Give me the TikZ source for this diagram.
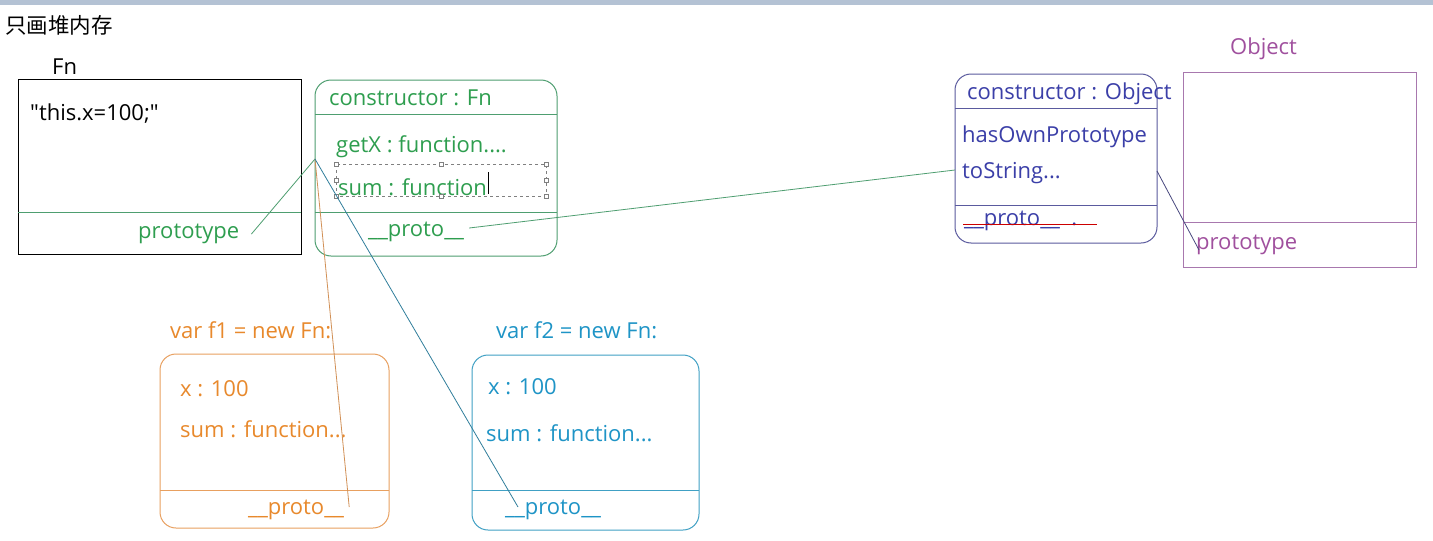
\documentclass[tikz,border=0pt]{standalone}
\usepackage{fontspec}
\setmainfont{Open Sans}
\newfontfamily\cjk{Noto Sans CJK SC}
\definecolor{gtext}{HTML}{2E9E4F}
\definecolor{gline}{HTML}{4E9E70}
\definecolor{btext}{HTML}{3B3FA8}
\definecolor{bline}{HTML}{5A5A9E}
\definecolor{ptext}{HTML}{A0509E}
\definecolor{pline}{HTML}{A878AE}
\definecolor{otext}{HTML}{E8892C}
\definecolor{oline}{HTML}{E8A060}
\definecolor{ctext}{HTML}{1E94C6}
\definecolor{cline}{HTML}{40A0C4}
\definecolor{topbar}{HTML}{B4C2D4}
\begin{document}
\begin{tikzpicture}[x=1pt,y=-1pt,
  lbl/.style={anchor=west,inner sep=0pt,font=\fontsize{22}{26}\selectfont},
  handle/.style={draw=gray,fill=white,minimum size=4pt,inner sep=0pt,line width=0.5pt}]
\useasboundingbox (0,0) rectangle (1433,541);
\fill[white] (0,0) rectangle (1433,541);
\fill[topbar] (0,0) rectangle (1433,5);
% title
\node[anchor=west,inner sep=0pt,font=\fontsize{21.5}{24}\selectfont] (title) at (5,25) {\cjk 只画堆内存};
% Fn box
\node[lbl] (fnlbl) at (52,67) {Fn};
\draw[black,line width=1pt] (18,79) rectangle (301,254);
\draw[gline,line width=1pt] (18,212) -- (301,212);
\node[lbl] (fnbody) at (30,114) {\textquotedbl this.x=100;\textquotedbl};
\node[lbl,text=gtext] (fnproto) at (138,234) {prototype};
% Fn prototype
\draw[gline,line width=1pt,rounded corners=16pt] (315,80) rectangle (557,256);
\draw[gline,line width=1pt] (315,114) -- (557,114);
\draw[gline,line width=1pt] (315,212) -- (557,212);
\node[lbl,text=gtext] (pctor) at (329,98) {constructor : Fn};
\node[lbl,text=gtext] (pgetx) at (336,147) {getX : function....};
\node[lbl,text=gtext] (psum) at (338,187) {sum : function};
\draw[gray,dashed,line width=0.6pt] (336,164) rectangle (546,196);
\foreach \hx in {336,441,546}{\node[handle] at (\hx,164) {};\node[handle] at (\hx,196) {};}
\node[handle] at (336,180) {};\node[handle] at (546,180) {};
\draw[black,line width=1pt] ([xshift=1pt]psum.east |- 0,172) -- ([xshift=1pt]psum.east |- 0,194);
\node[lbl,text=gtext] (pproto) at (368,232) {\_\_proto\_\_};
\coordinate (hub) at (315,159);
% Object prototype
\draw[bline,line width=1pt,rounded corners=16pt] (955,74) rectangle (1157,243);
\draw[bline,line width=1pt] (955,108) -- (1157,108);
\draw[bline,line width=1pt] (955,205) -- (1157,205);
\node[lbl,text=btext] (octor) at (967,94) {constructor : Object};
\node[lbl,text=btext] (ohas) at (962,137) {hasOwnPrototype};
\node[lbl,text=btext] (otostr) at (962,173) {toString...};
\node[lbl,text=btext] (oproto) at (964,221) {\_\_proto\_\_\ \ .};
\draw[red!80!black,line width=1pt] (963,224) -- (1097,224);
% Object function
\node[lbl,text=ptext] (objlbl) at (1230,49) {Object};
\draw[pline,line width=1pt] (1183,72) rectangle (1416,267);
\draw[pline,line width=1pt] (1183,222) -- (1416,222);
\node[lbl,text=ptext] (objproto) at (1196,245) {prototype};
% f1
\node[lbl,text=otext] (f1lbl) at (170,330) {var f1 = new Fn:};
\draw[oline,line width=1pt,rounded corners=16pt] (160,354) rectangle (389,528);
\draw[oline,line width=1pt] (160,490) -- (389,490);
\node[lbl,text=otext] (f1x) at (180,389) {x : 100};
\node[lbl,text=otext] (f1sum) at (180,429) {sum : function...};
\node[lbl,text=otext] (f1proto) at (248,510) {\_\_proto\_\_};
% f2
\node[lbl,text=ctext] (f2lbl) at (496,330) {var f2 = new Fn:};
\draw[cline,line width=1pt,rounded corners=16pt] (472,355) rectangle (699,530);
\draw[cline,line width=1pt] (472,490) -- (699,490);
\node[lbl,text=ctext] (f2x) at (488,387) {x : 100};
\node[lbl,text=ctext] (f2sum) at (486,433) {sum : function...};
\node[lbl,text=ctext] (f2proto) at (505,510) {\_\_proto\_\_};
% connectors
\draw[gline,line width=0.8pt] ([xshift=12pt]fnproto.east) -- (hub);
\draw[oline!90!black,line width=0.8pt] (hub) -- ([xshift=5pt,yshift=3pt]f1proto.east);
\draw[cline!80!black,line width=0.8pt] (hub) -- ([xshift=13pt,yshift=3pt]f2proto.west);
\draw[gline,line width=0.8pt] ([xshift=5pt,yshift=4pt]pproto.east) -- ([xshift=-7pt,yshift=3pt]otostr.west);
\draw[bline!80!black,line width=0.8pt] ([yshift=2pt]otostr.east -| 1157,0) -- ([xshift=3pt,yshift=-5pt]objproto.west);
\end{tikzpicture}
\end{document}
